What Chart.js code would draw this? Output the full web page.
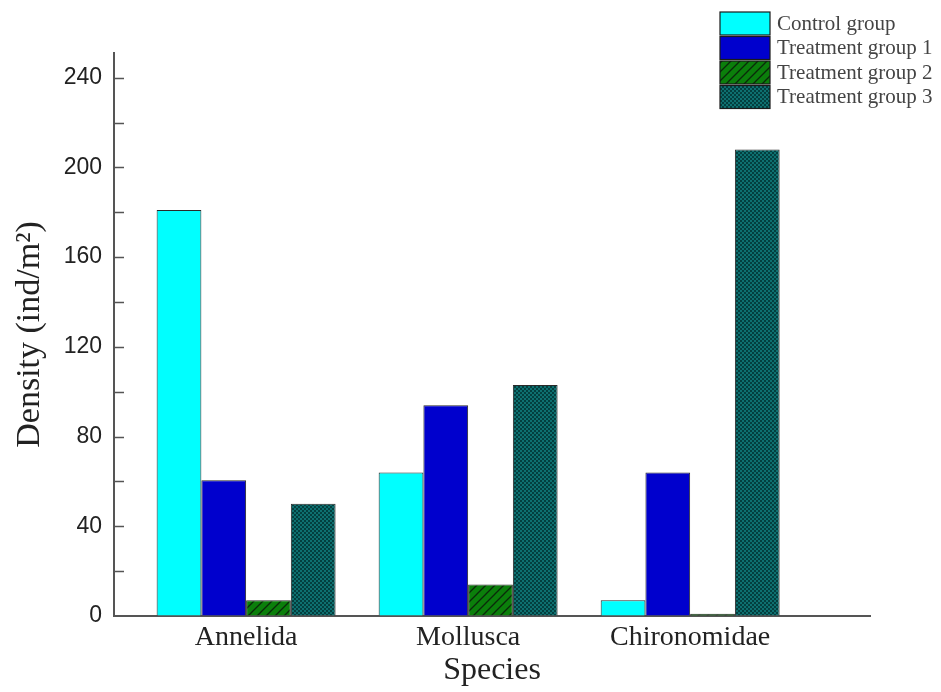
<!DOCTYPE html>
<html>
<head>
<meta charset="utf-8">
<script src="https://cdn.jsdelivr.net/npm/chart.js@4/dist/chart.umd.min.js"></script>
<style>
  html, body { margin: 0; padding: 0; background: #fff; }
  #cadre { width: 941px; height: 692px; }
</style>
</head>
<body>
<div id="cadre"><canvas id="graphique-densite"></canvas></div>
<script>
const categories = ["Annelida", "Mollusca", "Chironomidae"];
const groupes = ["Control group", "Treatment group 1", "Treatment group 2", "Treatment group 3"];
const controle = [181, 64, 7];
const traitement1 = [60.5, 94, 64];
const traitement2 = [7, 14, 1];
const traitement3 = [50, 103, 208];
const ticksY = [0, 40, 80, 120, 160, 200, 240];

// motifs de remplissage (hachures et damier)
function motifHachures() {
  const c = document.createElement("canvas");
  c.width = 9; c.height = 9;
  const ctx = c.getContext("2d");
  ctx.fillStyle = "#0b7f0b";
  ctx.fillRect(0, 0, 9, 9);
  ctx.strokeStyle = "#0a2a0a";
  ctx.lineWidth = 1.3;
  ctx.beginPath();
  ctx.moveTo(-1, 10); ctx.lineTo(10, -1);
  ctx.moveTo(-1, 1); ctx.lineTo(1, -1);
  ctx.moveTo(8, 10); ctx.lineTo(10, 8);
  ctx.stroke();
  return ctx.createPattern(c, "repeat");
}

function motifDamier() {
  const c = document.createElement("canvas");
  c.width = 4; c.height = 4;
  const ctx = c.getContext("2d");
  ctx.fillStyle = "#0e7070";
  ctx.fillRect(0, 0, 4, 4);
  ctx.fillStyle = "#033f3f";
  ctx.fillRect(0, 0, 2, 2);
  ctx.fillRect(2, 2, 2, 2);
  return ctx.createPattern(c, "repeat");
}

const valeurs = [controle, traitement1, traitement2, traitement3];
const couleurs = ["#00ffff", "#0000cd", motifHachures(), motifDamier()];

const datasets = groupes.map((nom, i) => ({
  label: nom,
  data: valeurs[i].map((v, j) => ({ x: j + 1, y: v })),
  backgroundColor: couleurs[i],
  borderColor: "#2a2a2a",
  borderWidth: 1,
  borderSkipped: "bottom",
  barPercentage: 1,
  categoryPercentage: 0.806
}));

// légende dessinée à la main en haut à droite
const legendeManuelle = {
  id: "legendeManuelle",
  afterDraw(chart) {
    const ctx = chart.ctx;
    ctx.save();
    ctx.font = "21px 'Liberation Serif'";
    ctx.textBaseline = "middle";
    chart.data.datasets.forEach((ds, i) => {
      const y = 12 + i * 24.5;
      ctx.fillStyle = ds.backgroundColor;
      ctx.fillRect(720, y, 50, 23);
      ctx.strokeStyle = "#1a1a1a";
      ctx.lineWidth = 1.2;
      ctx.strokeRect(720, y, 50, 23);
      ctx.fillStyle = "#444";
      ctx.fillText(ds.label, 777, y + 12);
    });
    ctx.restore();
  }
};

// graduations de l'axe Y tournées vers l'intérieur
const graduationsInternes = {
  id: "graduationsInternes",
  afterDraw(chart) {
    const y = chart.scales.y;
    const ctx = chart.ctx;
    ctx.save();
    ctx.strokeStyle = "#555";
    ctx.lineWidth = 1.5;
    ctx.beginPath();
    y.ticks.forEach(t => {
      if (t.value === 0) return;
      const py = Math.round(y.getPixelForValue(t.value)) + 0.5;
      ctx.moveTo(y.right, py);
      ctx.lineTo(y.right + 10, py);
    });
    ctx.stroke();
    ctx.restore();
  }
};

new Chart(document.querySelector("#graphique-densite"), {
  type: "bar",
  data: { datasets: datasets },
  options: {
    responsive: true,
    maintainAspectRatio: false,
    animation: false,
    layout: { padding: { top: 53, right: 71, left: 0, bottom: 0 } },
    plugins: {
      legend: { display: false },
      tooltip: { enabled: false }
    },
    scales: {
      x: {
        type: "linear",
        offset: false,
        min: 0.405,
        max: 3.81,
        afterBuildTicks: (scale) => {
          scale.ticks = categories.map((c, i) => ({ value: i + 1 }));
        },
        afterFit: (scale) => { scale.height = 76; },
        ticks: {
          callback: (v) => categories[v - 1] || "",
          font: { family: "'Liberation Serif'", size: 28 },
          color: "#222",
          padding: 5,
          maxRotation: 0,
          autoSkip: false
        },
        grid: { display: false, drawTicks: false, offset: false },
        border: { display: true, color: "#555", width: 2 },
        title: {
          display: true,
          text: "Species",
          font: { family: "'Liberation Serif'", size: 32 },
          color: "#222",
          padding: { top: 0, bottom: 2 }
        }
      },
      y: {
        min: 0,
        max: 251,
        // graduations majeures (étiquetées) et mineures entre elles
        afterBuildTicks: (scale) => {
          scale.ticks = ticksY.flatMap((v, i) =>
            i < ticksY.length - 1 ? [{ value: v }, { value: (v + ticksY[i + 1]) / 2 }] : [{ value: v }]);
        },
        afterFit: (scale) => { scale.width = 114; },
        ticks: {
          autoSkip: false,
          callback: (v) => ticksY.includes(v) ? v : "",
          font: { family: "'Liberation Sans'", size: 23 },
          color: "#222",
          padding: 12
        },
        grid: { drawOnChartArea: false, drawTicks: false },
        border: { display: true, color: "#555", width: 2 },
        title: {
          display: true,
          text: "Density (ind/m²)",
          font: { family: "'Liberation Serif'", size: 34 },
          color: "#222",
          padding: { top: 10, bottom: 0 }
        }
      }
    }
  },
  plugins: [legendeManuelle, graduationsInternes]
});
</script>
</body>
</html>
